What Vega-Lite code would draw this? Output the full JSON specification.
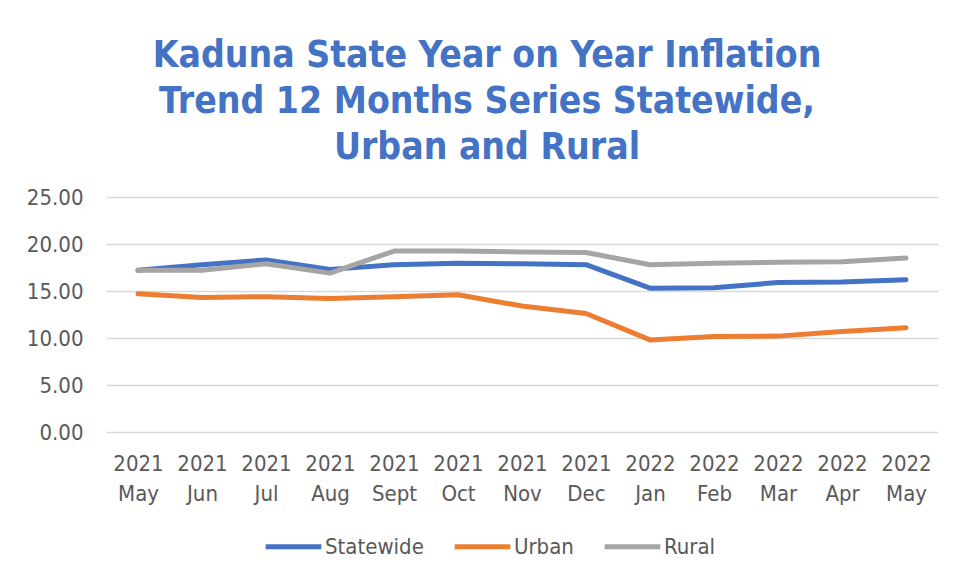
{
  "$schema": "https://vega.github.io/schema/vega-lite/v6.json",
  "width": 832,
  "height": 235,
  "autosize": {"type": "none"},
  "padding": {"left": 106, "top": 197, "right": 17, "bottom": 149},
  "background": "white",
  "title": {
    "text": ["Kaduna State Year on Year Inflation", "Trend 12 Months Series Statewide,", "Urban and Rural"],
    "font": "DejaVu Sans Condensed",
    "fontWeight": "bold",
    "fontSize": 37,
    "lineHeight": 46,
    "color": "#4472C4",
    "anchor": "middle",
    "dx": -35,
    "offset": 19
  },
  "data": {
    "values": [
      {"month": "2021 May", "series": "Statewide", "value": 17.2},
      {"month": "2021 Jun", "series": "Statewide", "value": 17.8},
      {"month": "2021 Jul", "series": "Statewide", "value": 18.3},
      {"month": "2021 Aug", "series": "Statewide", "value": 17.3},
      {"month": "2021 Sept", "series": "Statewide", "value": 17.8},
      {"month": "2021 Oct", "series": "Statewide", "value": 17.95},
      {"month": "2021 Nov", "series": "Statewide", "value": 17.9},
      {"month": "2021 Dec", "series": "Statewide", "value": 17.8},
      {"month": "2022 Jan", "series": "Statewide", "value": 15.3},
      {"month": "2022 Feb", "series": "Statewide", "value": 15.35},
      {"month": "2022 Mar", "series": "Statewide", "value": 15.9},
      {"month": "2022 Apr", "series": "Statewide", "value": 15.95},
      {"month": "2022 May", "series": "Statewide", "value": 16.2},
      {"month": "2021 May", "series": "Urban", "value": 14.7},
      {"month": "2021 Jun", "series": "Urban", "value": 14.3},
      {"month": "2021 Jul", "series": "Urban", "value": 14.4},
      {"month": "2021 Aug", "series": "Urban", "value": 14.2},
      {"month": "2021 Sept", "series": "Urban", "value": 14.4},
      {"month": "2021 Oct", "series": "Urban", "value": 14.6},
      {"month": "2021 Nov", "series": "Urban", "value": 13.4},
      {"month": "2021 Dec", "series": "Urban", "value": 12.6},
      {"month": "2022 Jan", "series": "Urban", "value": 9.8},
      {"month": "2022 Feb", "series": "Urban", "value": 10.15},
      {"month": "2022 Mar", "series": "Urban", "value": 10.2},
      {"month": "2022 Apr", "series": "Urban", "value": 10.7},
      {"month": "2022 May", "series": "Urban", "value": 11.1},
      {"month": "2021 May", "series": "Rural", "value": 17.2},
      {"month": "2021 Jun", "series": "Rural", "value": 17.2},
      {"month": "2021 Jul", "series": "Rural", "value": 17.9},
      {"month": "2021 Aug", "series": "Rural", "value": 16.9},
      {"month": "2021 Sept", "series": "Rural", "value": 19.25},
      {"month": "2021 Oct", "series": "Rural", "value": 19.25},
      {"month": "2021 Nov", "series": "Rural", "value": 19.15},
      {"month": "2021 Dec", "series": "Rural", "value": 19.1},
      {"month": "2022 Jan", "series": "Rural", "value": 17.8},
      {"month": "2022 Feb", "series": "Rural", "value": 17.95},
      {"month": "2022 Mar", "series": "Rural", "value": 18.05},
      {"month": "2022 Apr", "series": "Rural", "value": 18.1},
      {"month": "2022 May", "series": "Rural", "value": 18.5}
    ]
  },
  "mark": {"type": "line", "strokeWidth": 5, "strokeCap": "round", "strokeJoin": "round"},
  "encoding": {
    "x": {
      "field": "month",
      "type": "ordinal",
      "sort": null,
      "scale": {"type": "point", "padding": 0.5},
      "axis": {
        "title": null,
        "labelAngle": 0,
        "labelExpr": "split(datum.label, ' ')",
        "labelFont": "DejaVu Sans Condensed",
        "labelFontSize": 22,
        "labelColor": "#595959",
        "labelLineHeight": 30,
        "labelPadding": 21,
        "ticks": false,
        "domain": false,
        "grid": false
      }
    },
    "y": {
      "field": "value",
      "type": "quantitative",
      "scale": {"domain": [0, 25]},
      "axis": {
        "title": null,
        "values": [0, 5, 10, 15, 20, 25],
        "format": ".2f",
        "labelFont": "DejaVu Sans Condensed",
        "labelFontSize": 22,
        "labelColor": "#595959",
        "labelPadding": 23,
        "ticks": false,
        "domain": false,
        "gridColor": "#D9D9D9",
        "gridWidth": 1.5
      }
    },
    "color": {
      "field": "series",
      "type": "nominal",
      "sort": ["Statewide", "Urban", "Rural"],
      "scale": {"domain": ["Statewide", "Urban", "Rural"], "range": ["#4472C4", "#ED7D31", "#A5A5A5"]},
      "legend": {
        "title": null,
        "orient": "none",
        "legendX": 157,
        "legendY": 319,
        "direction": "horizontal",
        "symbolType": "stroke",
        "symbolSize": 3100,
        "symbolStrokeWidth": 5,
        "labelFont": "DejaVu Sans Condensed",
        "labelFontSize": 22,
        "labelColor": "#595959",
        "labelOffset": 1,
        "columnPadding": 20
      }
    }
  },
  "config": {
    "view": {"stroke": null}
  }
}
